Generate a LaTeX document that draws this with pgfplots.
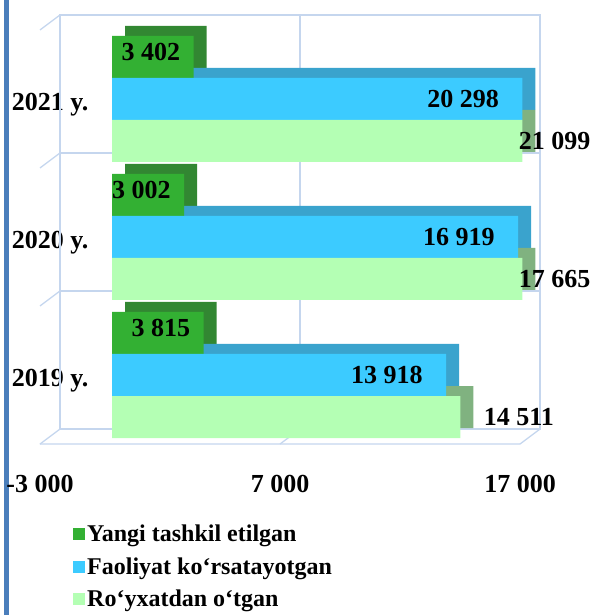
\documentclass[border=0pt]{standalone}
\usepackage{pgfplots}
\pgfplotsset{compat=1.18}
\usepackage{pgfplotstable}
\usepackage{fontspec}
\setmainfont{Liberation Serif}
\definecolor{gfront}{RGB}{51,176,51}
\definecolor{gside}{RGB}{50,135,50}
\definecolor{bfront}{RGB}{60,203,255}
\definecolor{bside}{RGB}{58,163,205}
\definecolor{lfront}{RGB}{180,255,180}
\definecolor{lside}{RGB}{128,178,128}
\definecolor{wall}{RGB}{197,214,238}
\definecolor{pageborder}{RGB}{74,126,187}

\pgfplotstableread{
c v
1 3815
2 3002
3 3402
}\greendata
\pgfplotstableread{
c v
1 13918
2 16919
3 20298
}\bluedata
\pgfplotstableread{
c v
1 14511
2 17665
3 21099
}\lightdata

\begin{document}
\begin{tikzpicture}[font=\fontsize{26}{31}\selectfont\bfseries]
\useasboundingbox (0,0) rectangle (593pt,615pt);
\fill[pageborder] (4pt,0) rectangle (9pt,615pt);
\begin{axis}[
 at={(40pt,171pt)}, anchor=south west,
 scale only axis, width=480pt, height=414pt,
 xmin=-3000, xmax=17000, ymin=0.5, ymax=3.5,
 clip=false,
 axis line style={draw=none},
 major tick length=0pt,
 scaled x ticks=false,
 xtick={-3000,7000,17000},
 xticklabels={{-3 000},{7 000},{17 000}},
 xticklabel style={yshift=-28pt},
 ytick={1,2,3},
 yticklabels={{2019 y.},{2020 y.},{2021 y.}},
 yticklabel style={anchor=east, xshift=52pt, yshift=-6pt},
 xbar, bar width=42pt,
 /pgf/number format/1000 sep={\ },
 /pgf/number format/assume math mode=true,
 legend cell align=left,
 legend style={at={(0.0625,-0.185)}, anchor=north west, draw=none, fill=none,
   font=\fontsize{24}{29}\selectfont\bfseries, row sep=10.5pt},
 legend image code/.code={\fill[#1] (0pt,-6pt) rectangle (12pt,6pt);},
]
% 3D frame (walls and floor)
\draw[wall, line width=1.3pt] ([shift={(20pt,15pt)}]axis cs:-3000,0.5) rectangle ([shift={(20pt,15pt)}]axis cs:17000,3.5);
\draw[wall, line width=1.3pt] ([shift={(20pt,15pt)}]axis cs:-3000,1.5) -- ([shift={(20pt,15pt)}]axis cs:17000,1.5);
\draw[wall, line width=1.3pt] ([shift={(20pt,15pt)}]axis cs:-3000,2.5) -- ([shift={(20pt,15pt)}]axis cs:17000,2.5);
\draw[wall, line width=1.3pt] ([shift={(20pt,15pt)}]axis cs:7000,0.5) -- ([shift={(20pt,15pt)}]axis cs:7000,3.5);
\draw[wall, line width=1.3pt] (axis cs:-3000,0.5) -- ([shift={(20pt,15pt)}]axis cs:-3000,0.5);
\draw[wall, line width=1.3pt] (axis cs:-3000,1.5) -- ([shift={(20pt,15pt)}]axis cs:-3000,1.5);
\draw[wall, line width=1.3pt] (axis cs:-3000,2.5) -- ([shift={(20pt,15pt)}]axis cs:-3000,2.5);
\draw[wall, line width=1.3pt] (axis cs:-3000,3.5) -- ([shift={(20pt,15pt)}]axis cs:-3000,3.5);
\draw[wall, line width=1.3pt] (axis cs:-3000,0.5) -- (axis cs:17000,0.5) -- ([shift={(20pt,15pt)}]axis cs:17000,0.5);
\draw[wall, line width=1.3pt] (axis cs:7000,0.5) -- ([shift={(20pt,15pt)}]axis cs:7000,0.5);

% depth faces
\addplot[forget plot, fill=gside, draw=none, bar shift=42pt, xshift=13pt, yshift=10pt]
  table[y=c, x expr={min(\thisrow{v},17100)}] {\greendata};
\addplot[forget plot, fill=bside, draw=none, bar shift=0pt, xshift=13pt, yshift=10pt]
  table[y=c, x expr={min(\thisrow{v},17100)}] {\bluedata};
\addplot[forget plot, fill=lside, draw=none, bar shift=-42pt, xshift=13pt, yshift=10pt]
  table[y=c, x expr={min(\thisrow{v},17100)}] {\lightdata};

% front faces
\addplot[fill=gfront, draw=none, bar shift=42pt, point meta=explicit, nodes near coords,
  every node near coord/.append style={anchor=east, xshift=-10pt, yshift=5pt, text=black}]
  table[y=c, x expr={min(\thisrow{v},17100)}, meta=v] {\greendata};
\addplot[fill=bfront, draw=none, bar shift=0pt, point meta=explicit, nodes near coords,
  every node near coord/.append style={anchor=east, xshift=-20pt, text=black}]
  table[y=c, x expr={min(\thisrow{v},17100)}, meta=v] {\bluedata};
\addplot[fill=lfront, draw=none, bar shift=-42pt, point meta=explicit, nodes near coords,
  visualization depends on={y \as \cy},
  every node near coord/.append style={anchor=west, xshift={ifthenelse(\cy>1.5,-7,20)*1pt}, text=black}]
  table[y=c, x expr={min(\thisrow{v},17100)}, meta=v] {\lightdata};
\legend{Yangi tashkil etilgan, Faoliyat ko‘rsatayotgan, Ro‘yxatdan o‘tgan}
\end{axis}
\end{tikzpicture}
\end{document}
